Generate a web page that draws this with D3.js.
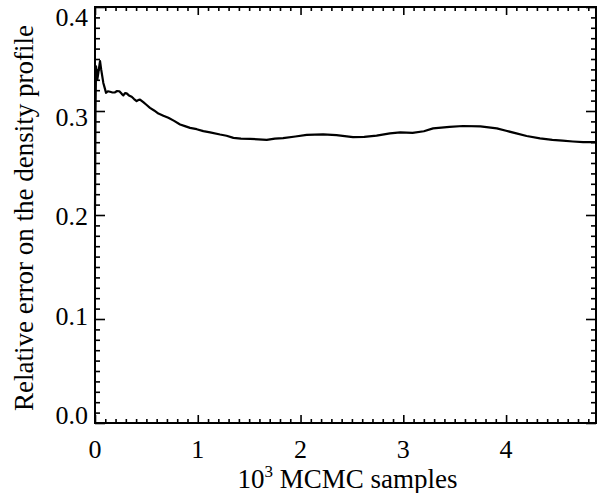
<!DOCTYPE html>
<html>
<head>
<meta charset="utf-8">
<script src="https://cdn.jsdelivr.net/npm/d3@7"></script>
<style>
  html, body { margin: 0; padding: 0; background: #fff; }
</style>
</head>
<body>
<svg id="chart" width="601" height="493"></svg>
<script>
"use strict";

// samples in units of 10^3
const samples = [0, 0.005, 0.01, 0.015, 0.022, 0.03, 0.04, 0.049, 0.06, 0.081, 0.095, 0.107, 0.125, 0.146, 0.17,
    0.195, 0.215, 0.237, 0.26, 0.276, 0.292, 0.308, 0.33, 0.357, 0.38, 0.405, 0.42, 0.438, 0.47, 0.5, 0.535,
    0.575, 0.617, 0.665, 0.714, 0.77, 0.828, 0.875, 0.925, 0.99, 1.054, 1.12, 1.217, 1.28, 1.347, 1.42, 1.509,
    1.59, 1.671, 1.75, 1.83, 1.95, 2.06, 2.22, 2.35, 2.51, 2.62, 2.74, 2.87, 2.97, 3.09, 3.2, 3.29, 3.45, 3.58,
    3.75, 3.91, 4.0, 4.1, 4.2, 4.33, 4.45, 4.55, 4.65, 4.75, 4.875];

const relError = [0.205, 0.30, 0.343, 0.338, 0.330, 0.335, 0.342, 0.348, 0.34, 0.327, 0.322, 0.3175, 0.319, 0.3185, 0.3178,
    0.318, 0.3192, 0.319, 0.3165, 0.315, 0.3172, 0.317, 0.315, 0.3137, 0.3115, 0.3095, 0.3105, 0.311, 0.3085, 0.306, 0.303,
    0.3005, 0.2975, 0.2955, 0.2935, 0.2905, 0.287, 0.2855, 0.2838, 0.2825, 0.2806, 0.2795, 0.2774, 0.2762, 0.2742, 0.2735, 0.2732,
    0.2728, 0.2722, 0.2735, 0.274, 0.2755, 0.277, 0.2776, 0.2768, 0.2748, 0.2752, 0.2763, 0.2785, 0.2795, 0.279, 0.2805, 0.2833, 0.2848, 0.2856,
    0.2852, 0.2833, 0.281, 0.2785, 0.276, 0.2737, 0.2722, 0.2715, 0.2707, 0.27, 0.27];

const xMajorTicks = [0, 1, 2, 3, 4];
const yMajorTicks = [0.0, 0.1, 0.2, 0.3, 0.4];

const FONT = "'Liberation Serif', 'Times New Roman', serif";

const margin = { left: 95, top: 7, right: 5, bottom: 70 };
const width = 601, height = 493;

const svg = d3.select("#chart")
    .attr("font-family", FONT);

const x = d3.scaleLinear()
    .domain([0, 4.875])
    .range([margin.left, width - margin.right]);

const y = d3.scaleLinear()
    .domain([0, 0.4])
    .range([height - margin.bottom, margin.top]);

const xMinor = d3.range(0, 4.875, 0.1).filter(v => Math.abs(v - Math.round(v)) > 1e-6);
const yMinor = d3.range(0, 0.4, 0.01).filter(v => Math.abs(v * 10 - Math.round(v * 10)) > 1e-6);

function styleTicks(g) {
    g.select(".domain").remove();
    g.selectAll(".tick line").attr("stroke", "#000").attr("stroke-width", 1.6);
}

// bottom + top, inward ticks
const plotBottom = y(0), plotTop = y(0.4);
const plotLeft = x(0), plotRight = x.range()[1];

svg.append("g").attr("transform", `translate(0,${plotBottom})`)
    .call(d3.axisBottom(x).tickValues(xMajorTicks).tickSize(-8).tickFormat(""))
    .call(styleTicks);
svg.append("g").attr("transform", `translate(0,${plotBottom})`)
    .call(d3.axisBottom(x).tickValues(xMinor).tickSize(-4).tickFormat(""))
    .call(styleTicks);
svg.append("g").attr("transform", `translate(0,${plotTop})`)
    .call(d3.axisTop(x).tickValues(xMajorTicks).tickSize(-8).tickFormat(""))
    .call(styleTicks);
svg.append("g").attr("transform", `translate(0,${plotTop})`)
    .call(d3.axisTop(x).tickValues(xMinor).tickSize(-4).tickFormat(""))
    .call(styleTicks);

// left + right, inward ticks
svg.append("g").attr("transform", `translate(${plotLeft},0)`)
    .call(d3.axisLeft(y).tickValues(yMajorTicks).tickSize(-10).tickFormat(""))
    .call(styleTicks);
svg.append("g").attr("transform", `translate(${plotLeft},0)`)
    .call(d3.axisLeft(y).tickValues(yMinor).tickSize(-5).tickFormat(""))
    .call(styleTicks);
svg.append("g").attr("transform", `translate(${plotRight},0)`)
    .call(d3.axisRight(y).tickValues(yMajorTicks).tickSize(-10).tickFormat(""))
    .call(styleTicks);
svg.append("g").attr("transform", `translate(${plotRight},0)`)
    .call(d3.axisRight(y).tickValues(yMinor).tickSize(-5).tickFormat(""))
    .call(styleTicks);

// frame
svg.append("rect")
    .attr("x", plotLeft)
    .attr("y", plotTop)
    .attr("width", plotRight - plotLeft)
    .attr("height", plotBottom - plotTop)
    .attr("fill", "none")
    .attr("stroke", "#000")
    .attr("stroke-width", 2);

// tick labels
svg.append("g").selectAll("text")
    .data(xMajorTicks)
    .enter()
    .append("text")
    .attr("x", d => x(d))
    .attr("y", plotBottom + 35)
    .attr("text-anchor", "middle")
    .attr("font-size", 26)
    .text(d => d3.format("d")(d));

svg.append("g").selectAll("text")
    .data(yMajorTicks)
    .enter()
    .append("text")
    .attr("x", plotLeft - 7)
    .attr("y", d => y(d) - 8 + 45 * d)
    .attr("dy", "0.35em")
    .attr("text-anchor", "end")
    .attr("font-size", 26)
    .text(d => d3.format(".1f")(d));

// the curve
const line = d3.line()
    .x(d => x(d[0]))
    .y(d => y(d[1]));

svg.append("path")
    .datum(d3.zip(samples, relError))
    .attr("fill", "none")
    .attr("stroke", "#000")
    .attr("stroke-width", 2.2)
    .attr("stroke-linejoin", "round")
    .attr("d", line);

// axis titles
const xTitle = svg.append("text")
    .attr("x", (plotLeft + plotRight) / 2 + 2)
    .attr("y", 488)
    .attr("text-anchor", "middle")
    .attr("font-size", 27);
xTitle.append("tspan").text("10");
xTitle.append("tspan").attr("font-size", 17).attr("dy", -11).text("3");
xTitle.append("tspan").attr("dy", 11).text(" MCMC samples");

svg.append("text")
    .attr("transform", `translate(33,${(plotTop + plotBottom) / 2 + 3}) rotate(-90)`)
    .attr("text-anchor", "middle")
    .attr("font-size", 27)
    .text("Relative error on the density profile");
</script>
</body>
</html>
